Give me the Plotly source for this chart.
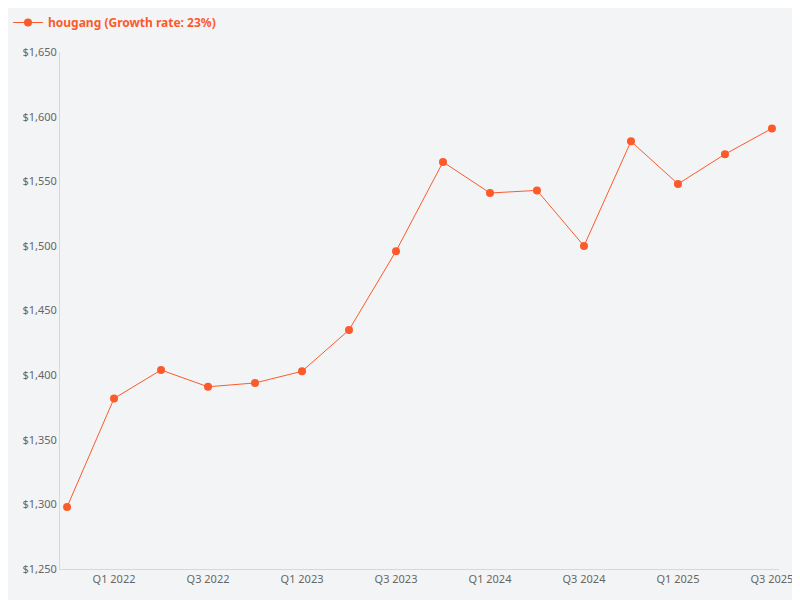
import plotly.graph_objects as go

quarters = ["Q4 2021","Q1 2022","Q2 2022","Q3 2022","Q4 2022","Q1 2023","Q2 2023","Q3 2023",
            "Q4 2023","Q1 2024","Q2 2024","Q3 2024","Q4 2024","Q1 2025","Q2 2025","Q3 2025"]
values = [1298,1382,1404,1391,1394,1403,1435,1496,1565,1541,1543,1500,1581,1548,1571,1591]
tick_labels = ["Q1 2022","Q3 2022","Q1 2023","Q3 2023","Q1 2024","Q3 2024","Q1 2025","Q3 2025"]
color = "#fc5a2a"

fig = go.Figure(go.Scatter(
    x=quarters, y=values, mode="lines+markers",
    name="<b>hougang (Growth rate: 23%)</b>",
    line=dict(color=color, width=1), marker=dict(color=color, size=8)))

fig.update_layout(
    width=792, height=592, paper_bgcolor="#f3f4f6", plot_bgcolor="#f3f4f6",
    margin=dict(l=52, r=7, t=42, b=31),
    font=dict(family="Noto Sans", size=11, color="#666"),
    showlegend=True,
    legend=dict(x=0, y=1.0, xref="container", yref="container", xanchor="left", yanchor="top",
                orientation="h", font=dict(color=color, size=12), bgcolor="rgba(0,0,0,0)"),
    xaxis=dict(type="category", tickvals=tick_labels, ticktext=tick_labels, showgrid=False,
               range=[-0.15, 15.15],
               showline=True, linecolor="#cfd8e3", ticks="", zeroline=False),
    yaxis=dict(range=[1250,1650], dtick=50, tickprefix="$", tickformat=",", showgrid=False,
               showline=True, linecolor="#cfd8e3", zeroline=False),
)
fig.write_html("out.html", config={"displayModeBar": False})
